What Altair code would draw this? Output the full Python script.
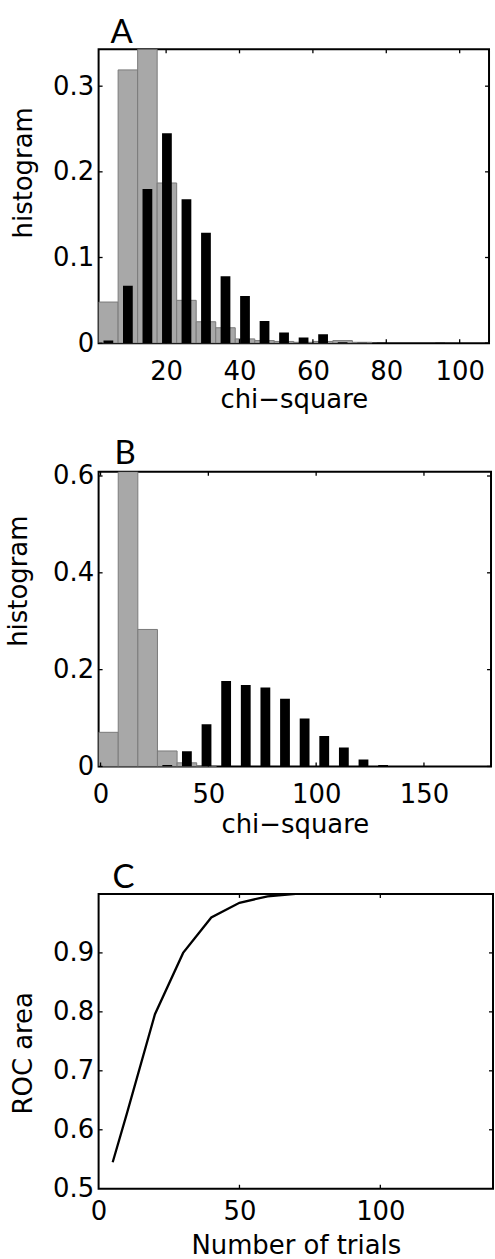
import altair as alt
import pandas as pd

# ---------------- Panel A data (chi-square histogram, 20 bins) ----------------
a_centers = [4.26, 9.58, 14.9, 20.22, 25.54, 30.86, 36.18, 41.5, 46.82, 52.14,
             57.46, 62.78, 68.1, 73.42, 78.74, 84.06, 89.38, 94.7, 100.02, 105.34]
a_gray = [0.048, 0.319, 0.343, 0.187, 0.050, 0.025, 0.018, 0.005, 0.003, 0.002,
          0.001, 0.002, 0.003, 0.001, 0, 0, 0, 0, 0, 0]
a_black = [0.003, 0.067, 0.180, 0.245, 0.168, 0.129, 0.078, 0.055, 0.026, 0.0125,
           0.0066, 0.0105, 0.001, 0.0005, 0.0005, 0, 0, 0.0005, 0, 0]
a_bin = 5.32
a_xdom = [1.6, 108.0]
a_ydom = [0, 0.343]
a_xticks = [20, 40, 60, 80, 100]
a_yticks = [0, 0.1, 0.2, 0.3]

# ---------------- Panel B data ----------------
b_centers = [3.65, 12.75, 21.85, 30.95, 40.05, 49.15, 58.25, 67.35, 76.45, 85.55,
             94.65, 103.75, 112.85, 121.95, 131.05, 140.15, 149.25, 158.35, 167.45, 176.55]
b_gray = [0.0705, 0.609, 0.283, 0.032, 0.0075, 0.001, 0, 0, 0, 0,
          0, 0, 0, 0, 0, 0, 0, 0, 0, 0]
b_black = [0, 0, 0, 0.003, 0.0315, 0.087, 0.1767, 0.1685, 0.163, 0.140,
           0.0993, 0.063, 0.039, 0.0144, 0.003, 0.001, 0, 0, 0, 0]
b_bin = 9.1
b_xdom = [-0.9, 181.1]
b_ydom = [0, 0.609]
b_xticks = [0, 50, 100, 150]
b_yticks = [0, 0.2, 0.4, 0.6]

# ---------------- Panel C data (ROC area vs number of trials) ----------------
c_trials = [5, 10, 20, 30, 40, 50, 60, 70, 80, 90, 100, 110, 120, 130, 140]
c_roc = [0.545, 0.627, 0.796, 0.900, 0.960, 0.985, 0.996, 1.0, 1.0, 1.0,
         1.0, 1.0, 1.0, 1.0, 1.0]
c_xdom = [0, 140]
c_ydom = [0.5, 1.0]
c_xticks = [0, 50, 100]
c_yticks = [0.5, 0.6, 0.7, 0.8, 0.9]

FONT = "DejaVu Sans"
GRAY = "#a8a8a8"
GRAY_EDGE = "#7a7a7a"
TICK_LEN = 4


def frame_ticks(xvals, yvals, xscale, yscale, xaxis, yaxis, W, H):
    dx = pd.DataFrame({"v": xvals})
    dy = pd.DataFrame({"v": yvals})
    rx = alt.Chart(dx).mark_rule(color="black", strokeWidth=1.3)
    ry = alt.Chart(dy).mark_rule(color="black", strokeWidth=1.3)
    xe = alt.X("v:Q", scale=xscale, axis=xaxis)
    ye = alt.Y("v:Q", scale=yscale, axis=yaxis)
    return [
        rx.encode(x=xe, y=alt.value(H - TICK_LEN), y2=alt.value(H)),
        rx.encode(x=xe, y=alt.value(0), y2=alt.value(TICK_LEN)),
        ry.encode(y=ye, x=alt.value(0), x2=alt.value(TICK_LEN)),
        ry.encode(y=ye, x=alt.value(W - TICK_LEN), x2=alt.value(W)),
    ]


def y_title(text, px, py):
    return alt.Chart(pd.DataFrame({"t": [text]})).mark_text(
        angle=270, align="center", baseline="alphabetic",
        font=FONT, fontSize=26, color="black",
    ).encode(x=alt.value(px), y=alt.value(py), text="t:N")


def panel_letter(letter, px, py):
    return alt.Chart(pd.DataFrame({"t": [letter]})).mark_text(
        align="left", baseline="alphabetic",
        font="Lato", fontSize=33, color="black",
    ).encode(x=alt.value(px), y=alt.value(py), text="t:N")


def hist_panel(letter, lx, ly, centers, gray, black, binw, xdom, ydom,
               xticks, yticks, W, H, ytitle_x, ytitle_y, xtitle_y):
    df = pd.DataFrame({"c": centers, "g": gray, "k": black})
    xs = alt.Scale(domain=xdom, nice=False, zero=False)
    ys = alt.Scale(domain=ydom, nice=False, zero=False)
    base = alt.Chart(df).transform_calculate(
        g0=f"datum.c - {binw / 2}", g1=f"datum.c + {binw / 2}",
        k0=f"datum.c - {binw / 4}", k1=f"datum.c + {binw / 4}",
    )
    xaxis = alt.Axis(values=xticks, format="d", title="chi\u2212square",
                     titleY=xtitle_y, titleBaseline="alphabetic")
    yaxis = alt.Axis(values=yticks, format=".1~f", title=None)
    gbars = base.transform_filter("datum.g > 0").mark_bar(
        color=GRAY, stroke=GRAY_EDGE, strokeWidth=1, clip=True
    ).encode(
        x=alt.X("g0:Q", scale=xs, axis=xaxis), x2="g1:Q",
        y=alt.Y("g:Q", scale=ys, axis=yaxis), y2=alt.datum(0),
    )
    kbars = base.transform_filter("datum.k > 0").mark_bar(
        color="black", clip=True
    ).encode(
        x=alt.X("k0:Q", scale=xs, axis=xaxis), x2="k1:Q",
        y=alt.Y("k:Q", scale=ys, axis=yaxis), y2=alt.datum(0),
    )
    layers = [gbars, kbars] + frame_ticks(xticks, yticks, xs, ys, xaxis, yaxis, W, H)
    layers.append(y_title("histogram", ytitle_x, ytitle_y))
    layers.append(panel_letter(letter, lx, ly))
    return alt.layer(*layers).properties(width=W, height=H)


A = hist_panel("A", 12, -6, a_centers, a_gray, a_black, a_bin, a_xdom, a_ydom,
               a_xticks, a_yticks, 392, 295, -67, 124, 65)
B = hist_panel("B", 16, -8, b_centers, b_gray, b_black, b_bin, b_xdom, b_ydom,
               b_xticks, b_yticks, 394, 296, -72, 110, 66)

cdf = pd.DataFrame({"n": c_trials, "roc": c_roc})
cxs = alt.Scale(domain=c_xdom, nice=False, zero=False)
cys = alt.Scale(domain=c_ydom, nice=False, zero=False)
cxaxis = alt.Axis(values=c_xticks, format="d", title="Number of trials",
                  titleY=65, titleBaseline="alphabetic", labelPadding=10)
cyaxis = alt.Axis(values=c_yticks, format=".1~f", title=None)
cline = alt.Chart(cdf).mark_line(color="black", strokeWidth=2.3, clip=True).encode(
    x=alt.X("n:Q", scale=cxs, axis=cxaxis),
    y=alt.Y("roc:Q", scale=cys, axis=cyaxis),
)
C = alt.layer(
    cline,
    *frame_ticks([50, 100], [0.6, 0.7, 0.8, 0.9], cxs, cys, cxaxis, cyaxis, 396, 296),
    y_title("ROC area", -67, 160),
    panel_letter("C", 14, -6),
).properties(width=396, height=296)

chart = alt.vconcat(A, B, C, spacing=23).properties(
    padding={"left": 5, "top": 14, "right": 0, "bottom": 0},
    background="white",
).configure_view(
    stroke="black", strokeWidth=2
).configure_axis(
    labelFont=FONT, labelFontSize=26, labelColor="black",
    titleFont=FONT, titleFontSize=26, titleColor="black", titleFontWeight="normal",
    domain=False, ticks=False, grid=False,
    labelPadding=5, labelOverlap=False, labelFlush=False,
).configure_axisX(
    labelPadding=15,
)

chart.save("out.html", embed_options={"renderer": "svg", "actions": False})
